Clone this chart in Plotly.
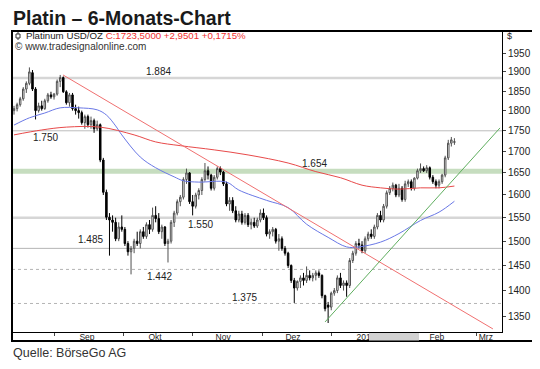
import math
import plotly.graph_objects as go

# ---------------- data ----------------
opens = [1800, 1805, 1815, 1830, 1855, 1870, 1898, 1855, 1800, 1812,
         1805, 1825, 1840, 1835, 1842, 1875, 1885, 1848, 1820, 1840,
         1805, 1800, 1795, 1770, 1785, 1765, 1775, 1755, 1765, 1680,
         1606, 1551, 1545, 1540, 1505, 1530, 1525, 1495, 1478, 1485,
         1500, 1495, 1520, 1510, 1535, 1525, 1555, 1548, 1520, 1530,
         1495, 1500, 1540, 1560, 1585, 1595, 1635, 1650, 1585, 1575,
         1600, 1610, 1635, 1655, 1645, 1615, 1640, 1660, 1652, 1625,
         1580, 1588, 1565, 1545, 1558, 1540, 1555, 1535, 1540, 1532,
         1545, 1560, 1550, 1515, 1520, 1525, 1500, 1505, 1485, 1475,
         1450, 1420, 1405, 1418, 1425, 1420, 1430, 1425, 1430, 1435,
         1430, 1390, 1372, 1368, 1395, 1400, 1425, 1410, 1415, 1410,
         1460, 1475, 1495, 1492, 1480, 1505, 1515, 1510, 1530, 1555,
         1545, 1575, 1605, 1615, 1622, 1600, 1615, 1590, 1625, 1630,
         1615, 1638, 1655, 1660, 1655, 1662, 1640, 1630, 1622, 1630,
         1645, 1685, 1720, 1722]
highs = [1812, 1820, 1835, 1860, 1875, 1912, 1905, 1860, 1820, 1825,
         1830, 1845, 1848, 1845, 1880, 1892, 1888, 1852, 1845, 1845,
         1815, 1810, 1800, 1790, 1790, 1785, 1780, 1775, 1768, 1685,
         1612, 1560, 1555, 1550, 1540, 1555, 1530, 1500, 1490, 1505,
         1520, 1525, 1530, 1540, 1545, 1572, 1575, 1560, 1535, 1532,
         1505, 1545, 1565, 1590, 1600, 1640, 1660, 1652, 1600, 1605,
         1615, 1640, 1673, 1665, 1648, 1645, 1665, 1665, 1655, 1630,
         1595, 1595, 1575, 1565, 1565, 1560, 1560, 1548, 1550, 1550,
         1568, 1570, 1555, 1525, 1530, 1528, 1515, 1510, 1490, 1478,
         1452, 1425, 1420, 1430, 1435, 1448, 1440, 1435, 1440, 1440,
         1432, 1392, 1378, 1398, 1405, 1430, 1435, 1420, 1420, 1465,
         1480, 1500, 1505, 1500, 1510, 1520, 1525, 1535, 1560, 1565,
         1580, 1610, 1620, 1628, 1625, 1625, 1620, 1632, 1635, 1635,
         1640, 1660, 1672, 1665, 1668, 1665, 1645, 1635, 1635, 1648,
         1690, 1728, 1735, 1732]
lows = [1790, 1798, 1810, 1825, 1845, 1865, 1850, 1778, 1795, 1800,
        1802, 1820, 1830, 1828, 1838, 1860, 1845, 1815, 1810, 1800,
        1790, 1780, 1765, 1755, 1758, 1755, 1745, 1750, 1675, 1600,
        1545, 1470, 1520, 1500, 1500, 1520, 1490, 1470, 1432, 1475,
        1490, 1485, 1505, 1505, 1515, 1520, 1540, 1515, 1505, 1490,
        1456, 1495, 1530, 1555, 1575, 1590, 1625, 1580, 1555, 1570,
        1590, 1600, 1630, 1635, 1610, 1610, 1635, 1645, 1620, 1575,
        1565, 1560, 1540, 1540, 1535, 1535, 1530, 1525, 1528, 1528,
        1540, 1545, 1510, 1505, 1510, 1495, 1480, 1480, 1470, 1445,
        1415, 1376, 1400, 1405, 1410, 1415, 1420, 1418, 1420, 1425,
        1385, 1360, 1338, 1362, 1390, 1395, 1405, 1400, 1388, 1405,
        1455, 1470, 1485, 1475, 1475, 1500, 1505, 1505, 1525, 1540,
        1540, 1570, 1600, 1608, 1595, 1595, 1585, 1585, 1618, 1610,
        1610, 1635, 1650, 1652, 1650, 1635, 1625, 1615, 1615, 1625,
        1640, 1680, 1712, 1716]
closes = [1805, 1815, 1830, 1855, 1870, 1900, 1855, 1800, 1812, 1805,
          1825, 1840, 1835, 1842, 1875, 1885, 1848, 1820, 1840, 1805,
          1800, 1795, 1770, 1785, 1765, 1775, 1755, 1765, 1680, 1606,
          1551, 1545, 1540, 1505, 1530, 1525, 1495, 1478, 1485, 1500,
          1495, 1520, 1510, 1535, 1525, 1555, 1548, 1520, 1530, 1495,
          1500, 1540, 1560, 1585, 1595, 1635, 1650, 1585, 1575, 1600,
          1610, 1635, 1655, 1645, 1615, 1640, 1660, 1652, 1625, 1580,
          1588, 1565, 1545, 1558, 1540, 1555, 1535, 1540, 1532, 1545,
          1560, 1550, 1515, 1520, 1525, 1500, 1505, 1485, 1475, 1450,
          1420, 1405, 1418, 1425, 1420, 1430, 1425, 1430, 1435, 1430,
          1390, 1365, 1368, 1395, 1400, 1425, 1410, 1415, 1410, 1460,
          1475, 1495, 1492, 1480, 1505, 1515, 1510, 1530, 1555, 1545,
          1575, 1605, 1615, 1622, 1600, 1615, 1590, 1625, 1630, 1615,
          1638, 1655, 1660, 1655, 1662, 1640, 1630, 1622, 1630, 1645,
          1685, 1720, 1728, 1723.5]
days = list(range(len(closes)))

ma_blue_days = [0, 5, 10, 15, 21, 27, 30, 33, 35, 41, 46, 52, 55, 60, 69, 73,
                82, 89, 95, 102, 108, 112, 119, 125, 132, 138, 143]
ma_blue = [1764, 1782, 1794, 1807, 1807, 1802, 1789, 1762, 1740, 1687, 1662,
           1641, 1632, 1629, 1629, 1611, 1588, 1572, 1536, 1508, 1488, 1488,
           1498, 1516, 1544, 1562, 1586]
ma_red_days = [0, 9, 17, 28, 39, 46, 54, 65, 76, 89, 98, 106, 113, 119, 125,
               132, 138, 143]
ma_red = [1740, 1752, 1759, 1759, 1740, 1723, 1714, 1704, 1692, 1673, 1653,
          1639, 1622, 1616, 1613, 1616, 1616, 1620]

trend_red_days = [15.9, 155.5]
trend_red = [1892, 1327]
trend_green_days = [101.0, 157.8]
trend_green = [1340, 1757]

levels = [1884, 1750, 1654, 1550, 1485, 1442, 1375]
level_labels = ["1.884", "1.750", "1.654", "1.550", "1.485", "1.442", "1.375"]
level_label_days = [46.8, 10.1, 97.7, 60.4, 24.7, 47.4, 75.0]

month_start_days = [13.3, 35.4, 57.8, 80.8, 103.2, 126.9, 150.3]
month_label_days = [23.7, 45.8, 67.9, 90.6, 114.3, 137.3, 153.2]
month_labels = ["Sep", "Okt", "Nov", "Dez", "2012", "Feb", "Mrz"]

y_ticks = [1350, 1400, 1450, 1500, 1550, 1600, 1650, 1700, 1750, 1800, 1850, 1900, 1950]

# ---------------- styles ----------------
FONT = "Liberation Sans, Arial, sans-serif"
level_styles = {
    1884: dict(color="#d6d6d6", width=2.5, dash="solid"),
    1750: dict(color="#bdbdbd", width=1, dash="solid"),
    1654: dict(color="#c6ddbf", width=5, dash="solid"),
    1550: dict(color="#d6d6d6", width=2.5, dash="solid"),
    1485: dict(color="#b4b4b4", width=1, dash="solid"),
    1442: dict(color="#b4b4b4", width=1, dash="dot"),
    1375: dict(color="#b4b4b4", width=1, dash="dot"),
}
level_shift = {1884: 6, 1750: -7, 1654: 8, 1550: -7, 1485: 9, 1442: -7, 1375: 6}

fig = go.Figure()

for lv in levels:
    st = level_styles[lv]
    fig.add_shape(type="line", xref="paper", x0=0, x1=1, yref="y", y0=lv, y1=lv,
                  line=dict(color=st["color"], width=st["width"], dash=st["dash"]),
                  layer="below")

fig.add_trace(go.Candlestick(
    x=days, open=opens, high=highs, low=lows, close=closes,
    increasing=dict(line=dict(color="#505050", width=1), fillcolor="#ffffff"),
    decreasing=dict(line=dict(color="#000000", width=1), fillcolor="#000000"),
    whiskerwidth=0, showlegend=False, hoverinfo="skip"))

fig.add_trace(go.Scatter(x=ma_blue_days, y=ma_blue, mode="lines",
                         line=dict(color="#6a78e6", width=1, shape="spline"),
                         showlegend=False, hoverinfo="skip"))
fig.add_trace(go.Scatter(x=ma_red_days, y=ma_red, mode="lines",
                         line=dict(color="#e84a4a", width=1, shape="spline"),
                         showlegend=False, hoverinfo="skip"))
fig.add_trace(go.Scatter(x=trend_red_days, y=trend_red, mode="lines",
                         line=dict(color="#f07070", width=1),
                         showlegend=False, hoverinfo="skip"))
fig.add_trace(go.Scatter(x=trend_green_days, y=trend_green, mode="lines",
                         line=dict(color="#5fae5f", width=1),
                         showlegend=False, hoverinfo="skip"))

for lv, txt, d in zip(levels, level_labels, level_label_days):
    fig.add_annotation(x=d, y=math.log10(lv), xref="x", yref="y", text=txt,
                       showarrow=False, yshift=level_shift[lv],
                       font=dict(family=FONT, size=10, color="#222222"))

# page pixel -> paper helpers (plot area on the page: x 12..502, y 31..332)
def px(x):
    return (x - 12) / 490.0

def py(y):
    return (332 - y) / 301.0

# outer frame
fig.add_shape(type="rect", xref="paper", yref="paper", x0=px(12), x1=px(533),
              y0=py(341), y1=py(31), line=dict(color="#000000", width=2),
              fillcolor="rgba(0,0,0,0)", layer="above")
# grey box on the date strip
fig.add_shape(type="rect", xref="paper", yref="paper", x0=px(369), x1=px(419),
              y0=py(340.5), y1=py(333), line=dict(width=0), fillcolor="#d2d2d2",
              layer="above")
# tiny candle icon in the header
fig.add_shape(type="line", xref="paper", yref="paper", x0=px(18), x1=px(18),
              y0=py(40), y1=py(32), line=dict(color="#333", width=1), layer="above")
fig.add_shape(type="rect", xref="paper", yref="paper", x0=px(16), x1=px(20),
              y0=py(38), y1=py(34), line=dict(color="#333", width=1),
              fillcolor="white", layer="above")

fig.add_annotation(xref="paper", yref="paper", x=px(24), y=py(35.5), xanchor="left",
                   yanchor="middle", showarrow=False,
                   text="Platinum USD/OZ <span style='color:#f03030'>C:1723,5000 +2,9501 +0,1715%</span>",
                   font=dict(family=FONT, size=9.7, color="#222222"))
fig.add_annotation(xref="paper", yref="paper", x=px(13), y=py(46.5), xanchor="left",
                   yanchor="middle", showarrow=False,
                   text="© www.tradesignalonline.com",
                   font=dict(family=FONT, size=10, color="#333333"))
fig.add_annotation(xref="paper", yref="paper", x=px(505), y=py(36), xanchor="left",
                   yanchor="middle", showarrow=False, text="$",
                   font=dict(family=FONT, size=9, color="#222222"))
fig.add_annotation(xref="paper", yref="paper", x=px(11), y=py(18.5), xanchor="left",
                   yanchor="middle", showarrow=False, text="<b>Platin – 6-Monats-Chart</b>",
                   font=dict(family=FONT, size=19.5, color="#1a1a1a"))
fig.add_annotation(xref="paper", yref="paper", x=px(11), y=py(353), xanchor="left",
                   yanchor="middle", showarrow=False, text="Quelle: BörseGo AG",
                   font=dict(family=FONT, size=12.5, color="#333333"))

# the page body adds an 8 px offset, so the plot area is placed 8 px up/left
fig.update_layout(
    width=540, height=369,
    margin=dict(l=4, r=46, t=23, b=45),
    paper_bgcolor="white", plot_bgcolor="white", showlegend=False,
    xaxis=dict(range=[-0.65, 158.45], rangeslider=dict(visible=False),
               showgrid=False, zeroline=False, showline=True, linecolor="#000000",
               linewidth=1, tickmode="array", tickvals=month_label_days,
               ticktext=month_labels, ticks="", ticklabelstandoff=-3,
               tickfont=dict(family=FONT, size=8.5, color="#222222"),
               minor=dict(tickmode="array", tickvals=month_start_days,
                          ticks="outside", ticklen=3, tickcolor="#444444")),
    yaxis=dict(type="log", range=[math.log10(1321.3), math.log10(2011.7)],
               side="right", showgrid=False, zeroline=False, showline=True,
               linecolor="#000000", linewidth=1, ticks="outside", ticklen=3,
               tickcolor="#444444", tickmode="array", tickvals=y_ticks,
               ticktext=[str(v) for v in y_ticks],
               tickfont=dict(family=FONT, size=10, color="#222222")),
)

fig.write_html("out.html")
